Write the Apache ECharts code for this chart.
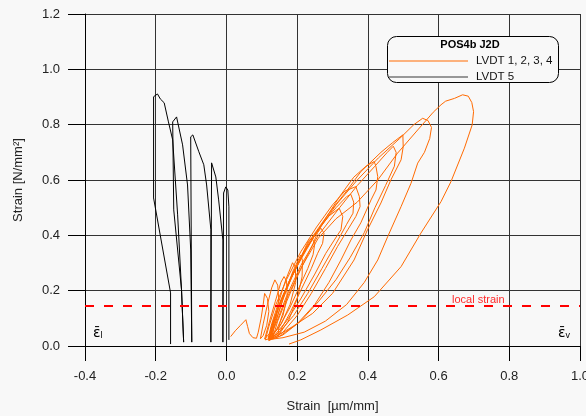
<!DOCTYPE html>
<html><head><meta charset="utf-8">
<script src="https://cdn.jsdelivr.net/npm/echarts@6/dist/echarts.min.js"></script>
<style>html,body{margin:0;padding:0;background:#f8f8f8}#c{width:586px;height:416px}</style>
</head><body><div id="c"></div>
<script>
const xTicks = [-0.4, -0.2, 0.0, 0.2, 0.4, 0.6, 0.8, 1.0];
const yTicks = [0.0, 0.2, 0.4, 0.6, 0.8, 1.0, 1.2];
const seriesNames = ['LVDT 1, 2, 3, 4', 'LVDT 5'];
const seriesColors = ['#ff6a00', '#000000'];
const legendIconColors = ['#ff6a00', '#777777'];
const legendTitle = 'POS4b J2D';
const xName = 'Strain  [\u00b5m/mm]';
const yName = 'Strain [N/mm\u00b2]';
const localStrainLevel = 0.145;
const localStrainText = 'local strain';

const lvdt1234 = [
  [0.012,0.034],[0.025,0.055],[0.040,0.075],[0.055,0.095],[0.060,0.070],[0.065,0.045],[0.075,0.030],[0.085,0.028],
  [0.090,0.050],[0.098,0.100],[0.104,0.150],[0.108,0.190],[0.116,0.172],[0.120,0.125],[0.114,0.075],[0.104,0.038],[0.096,0.026],
  [0.104,0.080],[0.116,0.150],[0.128,0.210],[0.137,0.239],[0.145,0.220],[0.148,0.170],[0.140,0.100],[0.125,0.050],[0.108,0.025],
  [0.122,0.090],[0.138,0.160],[0.154,0.230],[0.163,0.251],[0.170,0.235],[0.172,0.180],[0.160,0.110],[0.140,0.055],[0.118,0.028],
  [0.128,0.080],[0.148,0.160],[0.168,0.240],[0.187,0.301],[0.195,0.285],[0.196,0.230],[0.180,0.150],[0.155,0.080],[0.128,0.035],
  [0.142,0.100],[0.163,0.180],[0.188,0.270],[0.210,0.329],[0.215,0.310],[0.214,0.250],[0.200,0.170],[0.175,0.090],[0.145,0.035],
  [0.150,0.080],[0.170,0.160],[0.200,0.250],[0.230,0.330],[0.245,0.370],[0.258,0.410],[0.267,0.426],[0.276,0.408],[0.272,0.371],[0.258,0.335],[0.240,0.280],[0.210,0.200],[0.180,0.120],[0.150,0.050],[0.120,0.025],
  [0.140,0.090],[0.160,0.170],[0.185,0.250],[0.210,0.320],[0.232,0.380],[0.242,0.390],[0.250,0.370],[0.245,0.330],[0.230,0.280],[0.205,0.210],[0.180,0.140],[0.150,0.070],[0.125,0.030],
  [0.130,0.080],[0.150,0.150],[0.180,0.240],[0.215,0.330],[0.248,0.400],[0.290,0.470],[0.319,0.498],[0.329,0.468],[0.324,0.420],[0.305,0.383],[0.281,0.335],[0.250,0.260],[0.210,0.170],[0.170,0.090],[0.130,0.030],[0.110,0.022],
  [0.120,0.070],[0.140,0.150],[0.170,0.240],[0.210,0.340],[0.255,0.430],[0.300,0.510],[0.335,0.560],[0.366,0.576],[0.376,0.540],[0.378,0.504],[0.366,0.468],[0.343,0.420],[0.314,0.359],[0.280,0.280],[0.240,0.190],[0.200,0.110],[0.160,0.050],[0.120,0.020],
  [0.125,0.060],[0.150,0.150],[0.185,0.250],[0.225,0.350],[0.270,0.440],[0.310,0.500],[0.340,0.540],[0.352,0.548],[0.360,0.520],[0.358,0.480],[0.340,0.440],[0.310,0.370],[0.270,0.280],[0.230,0.190],[0.190,0.110],[0.150,0.050],[0.125,0.025],
  [0.130,0.070],[0.150,0.150],[0.180,0.240],[0.220,0.340],[0.270,0.440],[0.320,0.540],[0.360,0.610],[0.395,0.650],[0.418,0.667],[0.423,0.648],[0.428,0.612],[0.423,0.564],[0.409,0.528],[0.380,0.445],[0.352,0.383],[0.324,0.311],[0.290,0.230],[0.250,0.150],[0.200,0.080],[0.150,0.035],[0.120,0.020],
  [0.130,0.080],[0.155,0.170],[0.190,0.270],[0.235,0.380],[0.290,0.480],[0.340,0.560],[0.380,0.630],[0.437,0.700],[0.470,0.735],[0.499,0.763],[0.500,0.720],[0.494,0.673],[0.465,0.600],[0.437,0.517],[0.399,0.420],[0.361,0.311],[0.300,0.190],[0.244,0.118],[0.187,0.070],[0.140,0.034],[0.120,0.025],
  [0.140,0.080],[0.170,0.180],[0.210,0.290],[0.260,0.400],[0.320,0.500],[0.370,0.580],[0.420,0.650],[0.455,0.700],[0.472,0.722],[0.480,0.700],[0.475,0.650],[0.450,0.580],[0.420,0.500],[0.390,0.410],[0.350,0.320],[0.310,0.240],[0.260,0.160],[0.210,0.090],[0.160,0.040],[0.130,0.025],
  [0.135,0.090],[0.160,0.180],[0.200,0.290],[0.250,0.400],[0.310,0.510],[0.370,0.600],[0.430,0.680],[0.490,0.750],[0.530,0.800],[0.555,0.823],[0.570,0.815],[0.580,0.790],[0.575,0.750],[0.560,0.700],[0.541,0.661],[0.522,0.588],[0.494,0.504],[0.456,0.395],[0.428,0.311],[0.390,0.230],[0.340,0.150],[0.280,0.090],[0.220,0.050],[0.160,0.030],[0.130,0.025],
  [0.145,0.090],[0.170,0.170],[0.210,0.280],[0.260,0.390],[0.310,0.460],[0.370,0.520],[0.428,0.600],[0.484,0.697],[0.541,0.781],[0.585,0.845],[0.607,0.872],[0.620,0.885],[0.645,0.895],[0.668,0.908],[0.684,0.903],[0.694,0.880],[0.699,0.847],[0.695,0.799],[0.673,0.715],[0.635,0.594],[0.607,0.522],[0.550,0.408],[0.494,0.287],[0.418,0.178],[0.343,0.112],[0.267,0.058],[0.210,0.022],[0.177,0.007]
];

const lvdt5 = [
  [-0.158,0.007],[-0.158,0.192],[-0.206,0.535],[-0.206,0.901],[-0.195,0.911],[-0.187,0.893],[-0.176,0.879],[-0.164,0.810],[-0.152,0.745],[-0.138,0.474],[-0.127,0.203],[-0.121,0.014],
  [-0.127,0.203],[-0.149,0.492],[-0.152,0.810],[-0.141,0.828],[-0.124,0.727],[-0.110,0.582],[-0.101,0.347],[-0.098,0.014],
  [-0.101,0.756],[-0.095,0.763],[-0.078,0.702],[-0.064,0.655],[-0.056,0.582],[-0.044,0.420],[-0.044,0.014],
  [-0.042,0.662],[-0.039,0.665],[-0.030,0.611],[-0.022,0.528],[-0.010,0.383],[-0.010,0.014],
  [-0.008,0.553],[-0.002,0.575],[0.004,0.564],[0.007,0.503],[0.007,0.022]
];

const chart = echarts.init(document.getElementById('c'), null, {renderer: 'canvas'});
const FONT = 'Liberation Sans, Arial, sans-serif';
const legendRows = seriesNames.map((n, i) => [
  {type: 'line', z: 21, shape: {x1: 389, y1: 61 + i * 16, x2: 468, y2: 61 + i * 16},
    style: {stroke: legendIconColors[i], lineWidth: i === 0 ? 1.2 : 1.6}},
  {type: 'text', z: 21, x: 476, y: 61 + i * 16,
    style: {text: n, fill: '#111', font: '11.5px ' + FONT, textVerticalAlign: 'middle'}}
]).flat();
chart.setOption({
  backgroundColor: '#f8f8f8',
  animation: false,
  textStyle: {fontFamily: FONT},
  grid: {left: 85, right: 6, top: 14, bottom: 70, containLabel: false, outerBoundsMode: 'none'},
  xAxis: {
    type: 'value', min: xTicks[0], max: xTicks[xTicks.length - 1], interval: 0.2,
    name: xName, nameLocation: 'middle', nameGap: 54,
    nameTextStyle: {fontSize: 13, color: '#222', fontFamily: FONT},
    axisLine: {onZero: false, lineStyle: {color: '#000', width: 1}},
    axisTick: {show: true, inside: false, length: 15, lineStyle: {color: '#000'}},
    axisLabel: {margin: 24, fontSize: 13, color: '#222', fontFamily: FONT, formatter: v => v.toFixed(1), hideOverlap: false},
    splitLine: {show: true, lineStyle: {color: '#333', width: 1}}
  },
  yAxis: {
    type: 'value', min: yTicks[0], max: yTicks[yTicks.length - 1], interval: 0.2,
    name: yName, nameLocation: 'middle', nameGap: 60,
    nameTextStyle: {fontSize: 13, color: '#222', fontFamily: FONT},
    axisLine: {show: true, onZero: false, lineStyle: {color: '#000', width: 1}},
    axisTick: {show: true, inside: false, length: 17, lineStyle: {color: '#000'}},
    axisLabel: {margin: 25, fontSize: 13, color: '#222', fontFamily: FONT, formatter: v => v.toFixed(1)},
    splitLine: {show: true, lineStyle: {color: '#333', width: 1}}
  },
  graphic: [
    {type: 'rect', z: 10, shape: {x: 387.5, y: 36.5, width: 171, height: 46, r: 9},
      style: {fill: '#f8f8f8', stroke: '#000', lineWidth: 1}},
    {type: 'text', z: 21, x: 470, y: 45,
      style: {text: legendTitle, fill: '#000', font: 'bold 11px ' + FONT, textAlign: 'center', textVerticalAlign: 'middle'}},
    ...legendRows,
    {type: 'text', z: 21, x: 452, y: 300,
      style: {text: localStrainText, fill: '#ff2a2a', font: '11px ' + FONT, textVerticalAlign: 'middle'}},
    {type: 'text', z: 21, x: 93, y: 333,
      style: {text: '{e|\u03b5\u0304}{s|l}', textVerticalAlign: 'middle',
        rich: {e: {fontSize: 14, fontFamily: 'DejaVu Sans', fill: '#000'}, s: {fontSize: 9, fontFamily: FONT, fill: '#000', padding: [6, 0, 0, 0]}}}},
    {type: 'text', z: 21, x: 558, y: 333,
      style: {text: '{e|\u03b5\u0304}{s|v}', textVerticalAlign: 'middle',
        rich: {e: {fontSize: 14, fontFamily: 'DejaVu Sans', fill: '#000'}, s: {fontSize: 9, fontFamily: FONT, fill: '#000', padding: [6, 0, 0, 0]}}}}
  ],
  series: [
    {name: seriesNames[0], type: 'line', data: lvdt1234, showSymbol: false, symbol: 'none', clip: true,
      lineStyle: {color: seriesColors[0], width: 1}, itemStyle: {color: seriesColors[0]}, z: 3},
    {name: seriesNames[1], type: 'line', data: lvdt5, showSymbol: false, symbol: 'none', clip: true,
      lineStyle: {color: seriesColors[1], width: 1}, itemStyle: {color: seriesColors[1]}, z: 3},
    {name: 'local', type: 'line', data: [[xTicks[0], localStrainLevel], [xTicks[xTicks.length - 1], localStrainLevel]],
      showSymbol: false, symbol: 'none', silent: true,
      lineStyle: {color: '#ff0000', width: 2, type: [9, 10]}, z: 4}
  ]
});
</script></body></html>
